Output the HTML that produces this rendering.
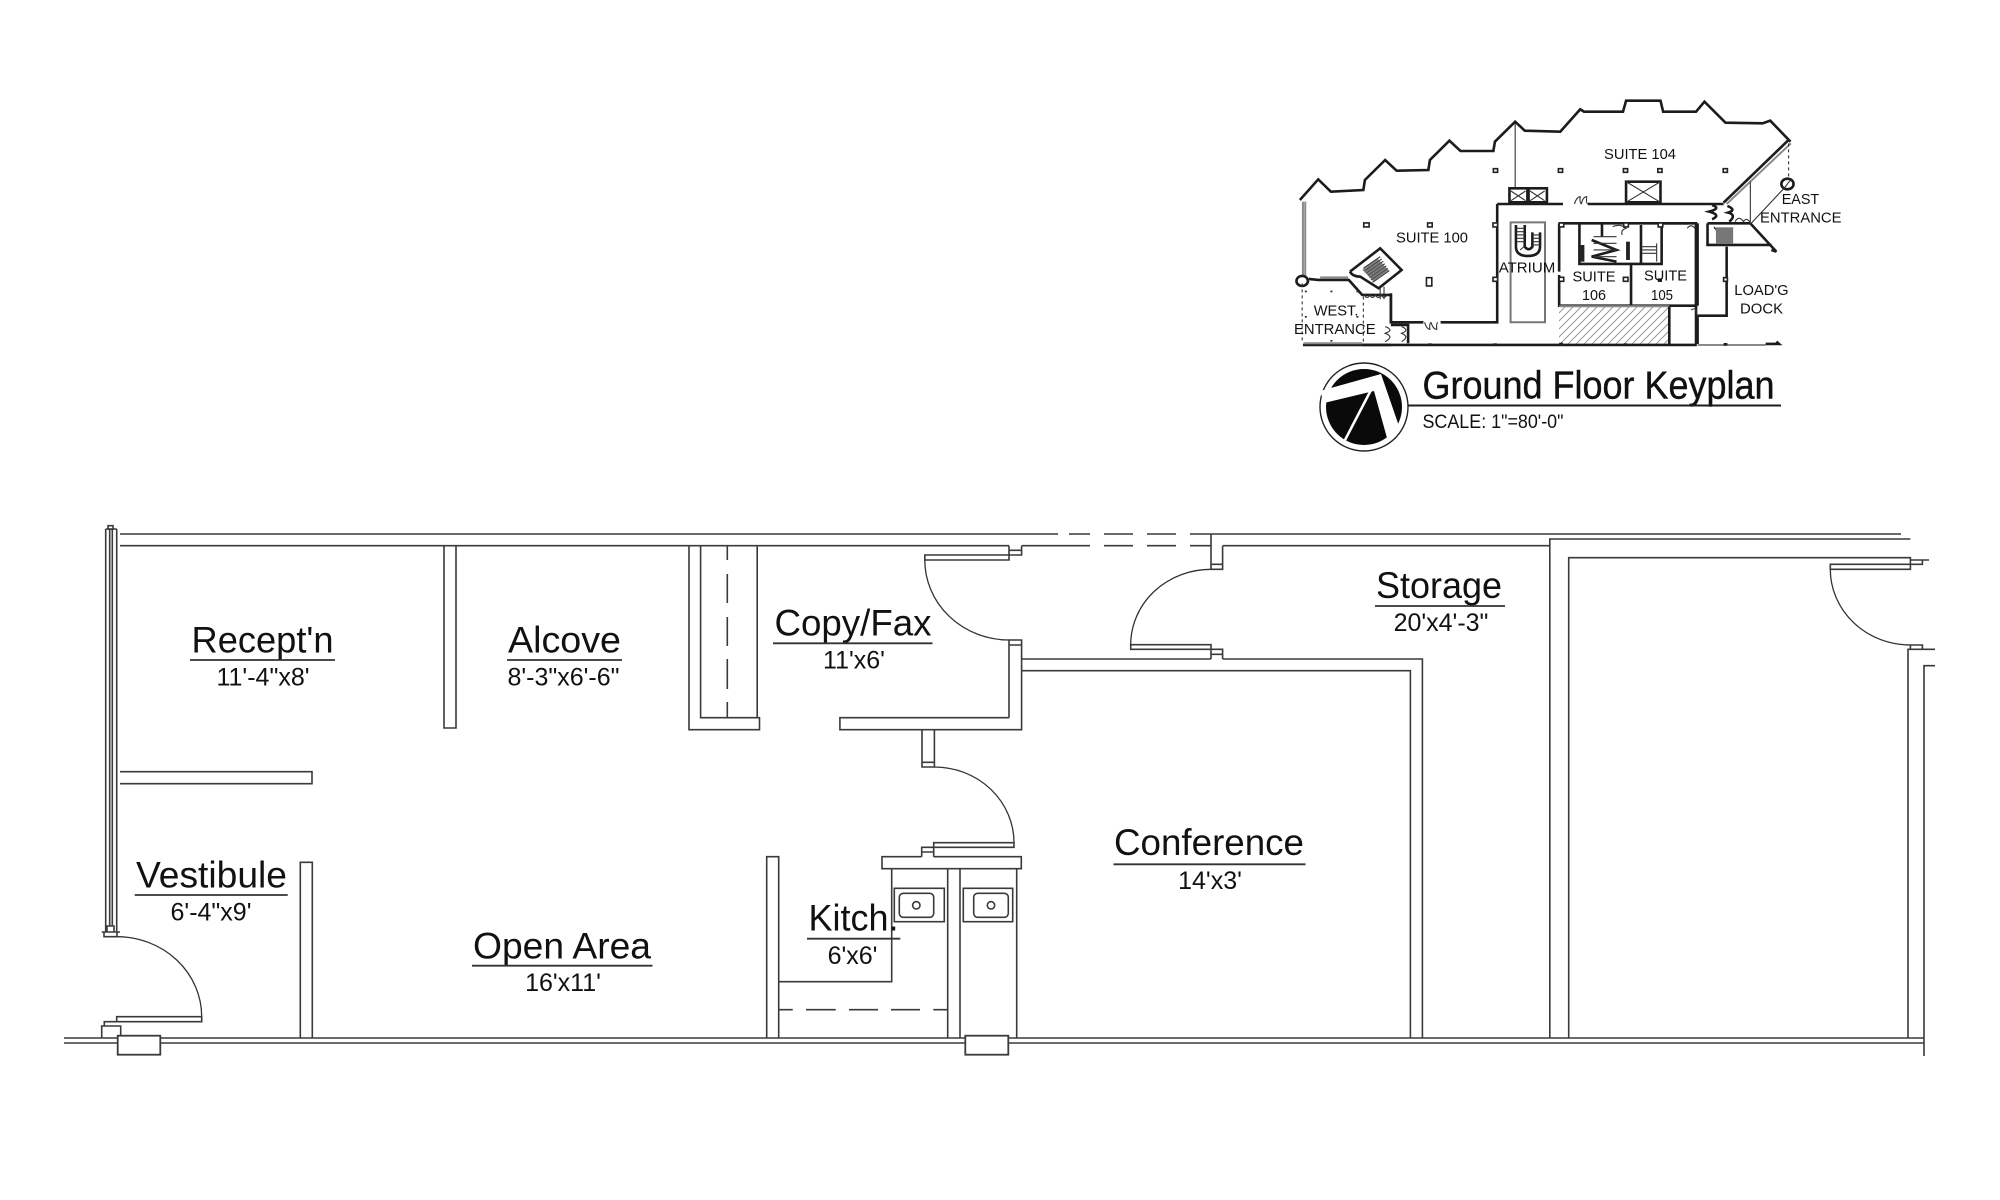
<!DOCTYPE html>
<html><head><meta charset="utf-8"><title>Ground Floor Keyplan</title>
<style>
html,body{margin:0;padding:0;background:#fff;width:2000px;height:1200px;overflow:hidden}
svg{display:block}
text{font-family:"Liberation Sans",sans-serif;fill:#111}
.w{fill:none;stroke:#3a3a3a;stroke-width:1.6}
.a{fill:none;stroke:#333;stroke-width:1.3}
.u{fill:none;stroke:#333;stroke-width:1.8}
.k *{vector-effect:non-scaling-stroke}
.t{fill:none;stroke:#1c1c1c;stroke-width:2.6}
.m{fill:none;stroke:#333;stroke-width:1.1}
.g{fill:none;stroke:#8a8a8a;stroke-width:2}
.c{fill:#fff;stroke:#222;stroke-width:1.6}
.d{fill:#222;stroke:none}
</style></head><body>
<svg width="2000" height="1200" viewBox="0 0 2000 1200" xmlns="http://www.w3.org/2000/svg">
<rect width="2000" height="1200" fill="#fff"/>
<defs>
<pattern id="h" patternUnits="userSpaceOnUse" width="8" height="8"><path d="M-2 2L2 -2M0 8L8 0M6 10L10 6" stroke="#999" stroke-width="1"/></pattern>
</defs>

<!-- MAIN PLAN -->
<g>
<path class="w" d="M120 534H1058M1069 534H1090M1104 534H1133M1147 534H1176M1190 534H1901"/>
<path class="w" d="M120 545.7H1009M1021.6 545.7H1090M1104 545.7H1133M1147 545.7H1176M1190 545.7H1211M1222.6 545.7H1549.8"/>
<path class="w" d="M105.7 529V932M109.7 529V926M112.3 529V926M116.7 529V932M105.7 529H116.7"/>
<rect class="w" x="108" y="525.7" width="5" height="3.5"/>
<path class="w" d="M107 932V926H114V932M101.7 932H120M104 932V936.7H117V932"/>
<path class="w" d="M444 546V728H456V546"/>
<path class="w" d="M120 771.7H312V783.7H120"/>
<path class="w" d="M300.3 1038V862.3H312.3V1038"/>
<path class="a" d="M117 936.7A84.7 80 0 0 1 201.7 1016.7"/>
<path class="w" d="M116.7 1021.7V1016.7H201.7V1021.7H116.7M116.7 1021.7H104.3V1026M101.7 1038V1026H120.7V1035.7"/>
<path class="w" d="M64 1038H1924M64 1043H1924"/>
<path class="w" d="M1924 1056V1038"/>
<rect class="w" x="117.7" y="1035.7" width="42.6" height="19" style="fill:#fff;stroke-width:1.8"/>
<path class="w" d="M689 546V729.7H759.5V717.7H700.6V546M757.2 546V717.7"/>
<path class="w" d="M727.3 546V560M727.3 574V603M727.3 617V646M727.3 659V689M727.3 702V717.7"/>
<path class="w" d="M1009 545.7V560H924.8V555H1009M1009 550.3H1021.6V545.7M1009 555H1021.6V550.3"/>
<path class="a" d="M924.8 560A84.2 80 0 0 0 1009 640"/>
<path class="w" d="M1009 717.7V640H1021.6V729.7H839.9V717.7H1009M1009 645H1021.6"/>
<path class="w" d="M1021.6 659H1211M1021.6 670.7H1410.4V1038M1222.6 659H1422.4V1038"/>
<path class="w" d="M1211 659V644.7H1130.7V649.3H1211M1211 649.3H1222.6V659M1211 654.3H1222.6"/>
<path class="a" d="M1130.7 644.7A80.3 75.4 0 0 1 1211 569.3"/>
<path class="w" d="M1211 534V569.3H1222.6V545.7M1211 564.3H1222.6"/>
<path class="w" d="M922 729.7V767H934.4V729.7M922 762.3H934.4"/>
<path class="a" d="M934.4 767A79.6 75.7 0 0 1 1014 842.7"/>
<path class="w" d="M933.7 856.7V842.7H1014V847.3H933.7M933.7 847.3H921.7V856.7M921.7 852H933.7"/>
<path class="w" d="M921.7 856.7H882V868.7H1021.3V856.7H933.7"/>
<path class="w" d="M766.7 1038V856.7H778.7V1038"/>
<path class="w" d="M778.7 981.7H891.7V868.7"/>
<path class="w" d="M947.7 868.7V1038M960 868.7V1038M1016.7 868.7V1038"/>
<path class="w" d="M778.7 1009.7H792.7M806 1009.7H835.7M849 1009.7H878M891 1009.7H920M933.3 1009.7H947.7"/>
<rect class="w" x="894.3" y="888.3" width="50" height="33.4"/>
<rect class="w" x="899.3" y="893.3" width="34.4" height="24" rx="4"/>
<circle class="w" cx="916.3" cy="905.3" r="3.7"/>
<rect class="w" x="963.3" y="888.3" width="49.4" height="33.4"/>
<rect class="w" x="973.7" y="893.3" width="34.6" height="24" rx="4"/>
<circle class="w" cx="991" cy="905.3" r="3.7"/>
<rect class="w" x="965.3" y="1035.7" width="43" height="19" style="fill:#fff;stroke-width:1.8"/>
<path class="w" d="M1549.8 1038V539H1910.4"/>
<path class="w" d="M1568.7 1038V557.7H1910.4V569.3H1830.3V564.3H1910.4M1910.4 560H1929M1922.4 560V564.3H1910.4"/>
<path class="a" d="M1830.3 569.3A80.1 75.7 0 0 0 1910.4 645"/>
<path class="w" d="M1910.4 649.3V645H1922.4V649.3M1908 1038V649.3H1935M1924 1038V665.7H1935"/>
</g>

<!-- MAIN LABELS -->
<g>
<text x="191.5" y="652.7" font-size="37" textLength="142" lengthAdjust="spacingAndGlyphs">Recept'n</text>
<path class="u" d="M190 660H335"/>
<text x="263" y="685.7" font-size="25" text-anchor="middle">11'-4"x8'</text>
<text x="508" y="652.7" font-size="37" textLength="113" lengthAdjust="spacingAndGlyphs">Alcove</text>
<path class="u" d="M507 660H622"/>
<text x="563.5" y="685.7" font-size="25" text-anchor="middle">8'-3"x6'-6"</text>
<text x="774.5" y="635.7" font-size="37" textLength="157" lengthAdjust="spacingAndGlyphs">Copy/Fax</text>
<path class="u" d="M773 643.3H932.5"/>
<text x="854" y="668.7" font-size="25" text-anchor="middle">11'x6'</text>
<text x="1376" y="598" font-size="37" textLength="126" lengthAdjust="spacingAndGlyphs">Storage</text>
<path class="u" d="M1375 606H1505"/>
<text x="1441" y="631" font-size="25" text-anchor="middle">20'x4'-3"</text>
<text x="1114" y="855" font-size="37" textLength="190" lengthAdjust="spacingAndGlyphs">Conference</text>
<path class="u" d="M1113.5 864.3H1305.5"/>
<text x="1210" y="889" font-size="25" text-anchor="middle">14'x3'</text>
<text x="136" y="887.3" font-size="37" textLength="151" lengthAdjust="spacingAndGlyphs">Vestibule</text>
<path class="u" d="M134.7 895H287.7"/>
<text x="211" y="920.7" font-size="25" text-anchor="middle">6'-4"x9'</text>
<text x="473" y="958.5" font-size="37" textLength="178" lengthAdjust="spacingAndGlyphs">Open Area</text>
<path class="u" d="M472 965.7H652.5"/>
<text x="563" y="991" font-size="25" text-anchor="middle">16'x11'</text>
<text x="808.5" y="930.7" font-size="37" textLength="90" lengthAdjust="spacingAndGlyphs">Kitch.</text>
<path class="u" d="M807 938.7H900.3"/>
<text x="852.5" y="964" font-size="25" text-anchor="middle">6'x6'</text>
</g>

<!-- KEYPLAN GEOMETRY -->
<rect x="1559" y="306.5" width="110" height="37" fill="url(#h)"/>
<g class="k" transform="translate(1280 80) scale(.3824 .3333)">
<path class="t" d="M52 360L100 298L133 335L218 330L222 300L275 240L305 272L388 270L392 240L443 182L472 213L558 213L562 185L615 125L640 152L733 155L785 88L795 95L897 95L905 62L995 62L1002 95L1088 95L1110 65L1165 128L1262 130L1282 122L1335 185"/>
<path class="g" d="M60 365V590M66 365V590"/>
<circle class="t" cx="58" cy="603" r="15"/>
<path class="t" d="M1328 182L1160 368"/>
<path class="g" d="M1336 190L1168 372"/>
<path class="m" d="M615 130V325"/>
<path class="m" stroke-dasharray="3 3" d="M1330 190V300"/>
<circle class="t" cx="1327" cy="312" r="16"/>
<path class="m" d="M1335 300L1318 325M1318 325L1232 430M1230 305V428"/>
<rect class="t" x="600" y="325" width="47" height="42"/>
<path class="m" d="M604 333L642 362M642 333L604 362"/>
<rect class="t" x="650" y="325" width="48" height="42"/>
<path class="m" d="M654 333L692 362M692 333L654 362"/>
<rect class="t" x="905" y="305" width="90" height="62"/>
<path class="m" d="M905 305L995 367M995 305L905 367"/>
<path class="t" d="M568 372H740M805 372H1160M568 372V727H420M375 727H290V640"/>
<path class="m" d="M770 372Q776 350 785 350Q783 370 788 372M788 372Q792 350 802 350Q800 370 805 372"/>
<path class="m" d="M378 727Q384 748 392 748Q390 730 395 727M395 727Q400 748 410 748Q408 730 413 727"/>
<rect x="603" y="427" width="90" height="300" fill="none" stroke="#777" stroke-width="2"/>
<path class="t" d="M617 435V500Q617 528 648 528Q680 528 680 500V457M640 435V500Q650 515 660 500V457"/>
<path class="m" d="M620 445H640M620 455H640M620 465H640M620 475H640M620 485H640M660 465H680M660 475H680M660 485H680M660 495H680M628 510L640 498"/>
<path class="t" d="M730 430H1088V677H730V585M730 430V575M918 677V552M918 552H783V430M998 430V552H918M944 435V550"/>
<path class="t" d="M842 430V470M1000 430H1068M1088 430V792M1092 430V677"/>
<rect class="d" x="786" y="495" width="10" height="50"/>
<rect class="d" x="905" y="485" width="10" height="55"/>
<path class="t" d="M815 480L880 510L815 530L880 545"/>
<path class="m" d="M820 470H880M820 490H880M820 510H880M820 530H880"/>
<path class="m" d="M945 500H985M945 510H985M945 520H985M985 490V545"/>
<path class="m" d="M870 440Q890 430 905 445Q890 450 895 465M1065 445Q1075 430 1085 445"/>
<path class="g" d="M730 679H1018"/>
<path class="t" d="M1018 680V792M1092 707V792M1092 707H1168V500M1118 430V495H1285M1118 430H1230"/>
<path class="m" d="M1075 690Q1088 680 1090 700M1135 440L1165 492V445H1135"/>
<rect x="1140" y="442" width="45" height="50" fill="#777" stroke="none"/>
<path class="t" d="M1230 430L1298 515L1285 510"/>
<path class="m" d="M1190 425Q1200 405 1212 425Q1220 410 1230 428"/>
<path class="t" d="M1130 375Q1155 385 1122 395Q1155 405 1130 418M1170 378Q1195 390 1172 398Q1195 405 1175 425"/>
<path class="t" d="M60 795H1090"/>
<path class="g" d="M1092 795H1270"/>
<path class="t" d="M1270 792H1305L1298 785"/>
<path class="g" d="M62 790H215"/>
<path class="t" d="M215 795H290"/>
<path class="m" stroke-dasharray="3 3" d="M58 610V790M218 650V790"/>
<path class="t" d="M75 597L100 600H180L215 645H290V727"/>
<path class="g" d="M105 592H178"/>
<path class="m" d="M220 645Q228 660 235 645Q240 660 250 645Q256 660 265 645Q270 660 280 645"/>
<path class="t" d="M183 575L262 505L318 570L258 625L210 590Q190 590 183 575"/>
<path class="m" d="M218 565L262 530M222 572L266 537M226 579L270 544M230 586L274 551M234 593L278 558M238 600L282 565M242 607L286 572M262 620V658M272 620V658"/>
<rect x="225" y="548" width="52" height="48" transform="rotate(-40 250 572)" fill="#555" stroke="none" opacity=".75"/>
<path class="m" d="M275 740Q300 750 275 760Q300 770 275 785M318 740Q340 750 318 760Q340 770 318 785"/>
<path class="t" d="M290 735H335V790"/>
<g>
<rect class="c" x="558" y="266" width="11" height="11"/><rect class="c" x="728" y="266" width="11" height="11"/><rect class="c" x="898" y="266" width="11" height="11"/><rect class="c" x="988" y="266" width="11" height="11"/><rect class="c" x="1159" y="266" width="11" height="11"/>
<rect class="c" x="219" y="429" width="14" height="12"/><rect class="c" x="386" y="429" width="12" height="12"/><rect class="c" x="557" y="429" width="12" height="12"/><rect class="c" x="557" y="592" width="12" height="12"/><rect class="c" x="383" y="593" width="14" height="25"/>
<rect class="c" x="730" y="429" width="12" height="12"/><rect class="c" x="899" y="429" width="12" height="12"/><rect class="c" x="989" y="429" width="12" height="12"/><rect class="c" x="730" y="592" width="12" height="12"/><rect class="c" x="898" y="592" width="12" height="12"/><rect class="d" x="988" y="595" width="11" height="11"/>
<rect class="c" x="1160" y="593" width="10" height="11"/>
<rect class="d" x="388" y="790" width="9" height="5"/><rect class="d" x="558" y="790" width="9" height="5"/><rect class="d" x="730" y="788" width="10" height="9"/><rect class="d" x="899" y="790" width="9" height="5"/><rect class="d" x="1160" y="789" width="10" height="8"/>
<rect class="d" x="65" y="632" width="5" height="5"/><rect class="d" x="132" y="632" width="5" height="5"/><rect class="d" x="200" y="632" width="5" height="5"/><rect class="d" x="65" y="708" width="5" height="5"/><rect class="d" x="200" y="708" width="5" height="5"/><rect class="d" x="132" y="780" width="5" height="5"/>
</g>
</g>

<!-- KEYPLAN LABELS -->
<g>
<text x="1604" y="159" font-size="15" textLength="72" lengthAdjust="spacingAndGlyphs">SUITE 104</text>
<text x="1396" y="242.3" font-size="15" textLength="72" lengthAdjust="spacingAndGlyphs">SUITE 100</text>
<text x="1498.7" y="272.7" font-size="15" textLength="56.6" lengthAdjust="spacingAndGlyphs">ATRIUM</text>
<text x="1572.5" y="281.7" font-size="15" textLength="43" lengthAdjust="spacingAndGlyphs">SUITE</text>
<text x="1582" y="300" font-size="15" textLength="24" lengthAdjust="spacingAndGlyphs">106</text>
<text x="1644" y="280.7" font-size="15" textLength="43" lengthAdjust="spacingAndGlyphs">SUITE</text>
<text x="1651" y="300" font-size="15" textLength="22" lengthAdjust="spacingAndGlyphs">105</text>
<text x="1781.7" y="204" font-size="15" textLength="37.5" lengthAdjust="spacingAndGlyphs">EAST</text>
<text x="1760" y="222.7" font-size="15" textLength="81.5" lengthAdjust="spacingAndGlyphs">ENTRANCE</text>
<text x="1734.3" y="295" font-size="15" textLength="54.3" lengthAdjust="spacingAndGlyphs">LOAD'G</text>
<text x="1740" y="313.3" font-size="15" textLength="43" lengthAdjust="spacingAndGlyphs">DOCK</text>
<text x="1313.7" y="315.7" font-size="15" textLength="44.7" lengthAdjust="spacingAndGlyphs">WEST.</text>
<text x="1294" y="334" font-size="15" textLength="81.6" lengthAdjust="spacingAndGlyphs">ENTRANCE</text>
</g>

<!-- TITLE BLOCK -->
<g transform="translate(1364 407)">
<circle r="44" fill="#fff" stroke="#222" stroke-width="1.4"/>
<circle r="38" fill="#0a0a0a"/>
<polygon points="-44,-16 17,-33 36,22 23,31 10,-16 -40,-4" fill="#fff"/>
<path d="M7 -17L-19 33" stroke="#fff" stroke-width="2.5"/>
</g>
<text x="1422.5" y="398.3" font-size="39" textLength="352" lengthAdjust="spacingAndGlyphs" stroke="#111" stroke-width=".4">Ground Floor Keyplan</text>
<path d="M1408 405.5H1781" stroke="#1c1c1c" stroke-width="2"/>
<text x="1422.5" y="428" font-size="19.5" textLength="141" lengthAdjust="spacingAndGlyphs">SCALE: 1"=80'-0"</text>
</svg>
</body></html>
